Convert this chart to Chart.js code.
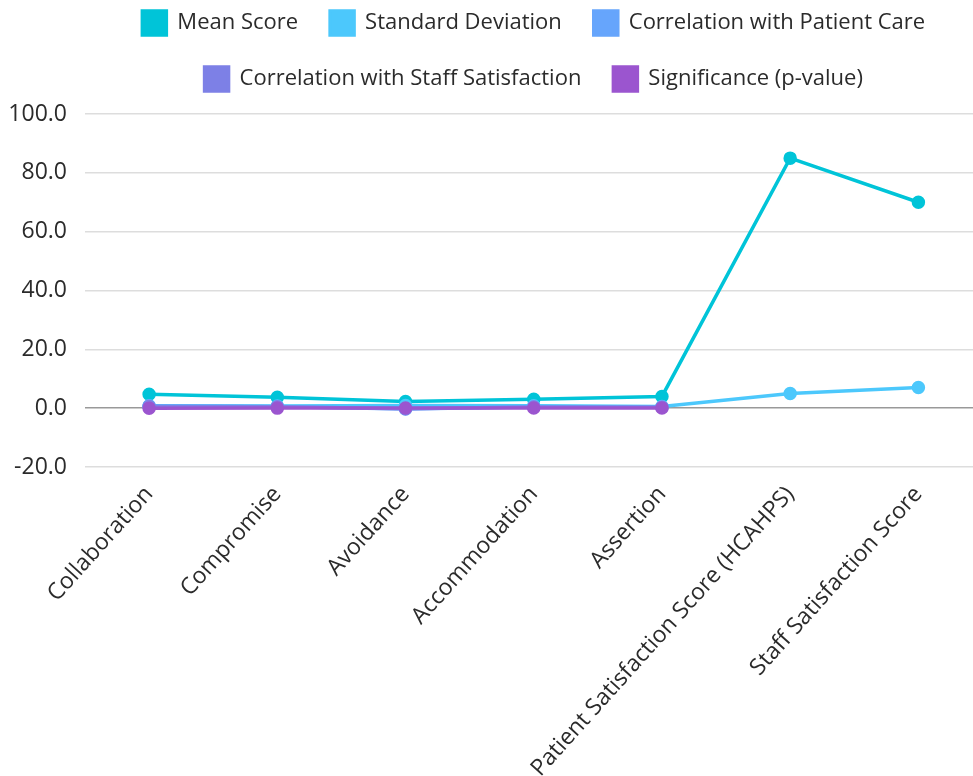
<!DOCTYPE html>
<html>
<head>
<meta charset="utf-8">
<script src="https://cdn.jsdelivr.net/npm/chart.js@4"></script>
<style>
	html, body { margin: 0; padding: 0; background: #fff; overflow: hidden; }
	#chart { display: block; margin-top: -21px; }
</style>
</head>
<body>
<canvas id="chart" width="991" height="797"></canvas>
<script>
var categories = ['Collaboration', 'Compromise', 'Avoidance', 'Accommodation', 'Assertion',
	'Patient Satisfaction Score (HCAHPS)', 'Staff Satisfaction Score'];
var meanScore = [4.7, 3.7, 2.3, 3.0, 4.0, 85.0, 70.0];
var stdDev = [0.8, 0.7, 0.9, 0.8, 0.6, 5.0, 7.0];
var corrPatient = [0.7, 0.6, -0.3, 0.5, 0.4, null, null];
var corrStaff = [0.6, 0.5, -0.2, 0.4, 0.3, null, null];
var pValue = [0.01, 0.02, 0.05, 0.03, 0.04, null, null];
var yTicks = [-20, 0, 20, 40, 60, 80, 100];

var fontFamily = "'Open Sans', sans-serif";

function series(label, data, color, order){
	return {
		label: label,
		data: data,
		order: order,
		borderColor: color,
		backgroundColor: color,
		borderWidth: 3.5,
		pointRadius: 5,
		pointHoverRadius: 5,
		tension: 0
	};
}

// push the plot down a little below the legend
var legendGap = {
	id: 'legendGap',
	beforeInit: function(chart){
		var fit = chart.legend.fit;
		chart.legend.fit = function(){
			fit.bind(chart.legend)();
			this.height += 13;
		};
	}
};

var config = {
	type: 'line',
	data: {
		labels: categories,
		datasets: [
			series('Mean Score', meanScore, '#00c4d8', 4),
			series('Standard Deviation', stdDev, '#4cc8fc', 3),
			series('Correlation with Patient Care', corrPatient, '#66a5fc', 2),
			series('Correlation with Staff Satisfaction', corrStaff, '#7d80e6', 1),
			series('Significance (p-value)', pValue, '#9b55cf', 0)
		]
	},
	options: {
		responsive: false,
		animation: false,
		devicePixelRatio: 1,
		layout: { padding: 0 },
		plugins: {
			legend: {
				position: 'top',
				fullSize: false,
				labels: {
					boxWidth: 24,
					boxHeight: 24,
					padding: 32,
					color: '#2b2b2b',
					font: { family: fontFamily, size: 22 },
					sort: function(a, b){ return a.datasetIndex - b.datasetIndex; }
				}
			},
			tooltip: { enabled: false }
		},
		scales: {
			x: {
				offset: true,
				grid: { display: false, drawTicks: false },
				border: { display: false },
				afterFit: function(axis){
					axis.paddingLeft = 0;
					axis.paddingRight = 0;
					axis.height = 309;
				},
				ticks: {
					color: '#2b2b2b',
					maxRotation: 48,
					minRotation: 48,
					padding: 14,
					font: { family: fontFamily, size: 23 }
				}
			},
			y: {
				min: -20,
				max: 100,
				afterBuildTicks: function(axis){
					axis.ticks = yTicks.map(function(v){ return {value: v}; });
				},
				afterFit: function(axis){
					axis.width = 85;
				},
				border: { display: false },
				grid: {
					color: function(ctx){ return ctx.tick && ctx.tick.value === 0 ? '#999' : '#ddd'; },
					lineWidth: 1.5,
					drawTicks: false
				},
				ticks: {
					color: '#2b2b2b',
					padding: 18,
					font: { family: fontFamily, size: 23 },
					callback: function(v){ return Number(v).toFixed(1); }
				}
			}
		}
	},
	plugins: [legendGap]
};

new Chart(document.getElementById('chart'), config);
</script>
</body>
</html>
